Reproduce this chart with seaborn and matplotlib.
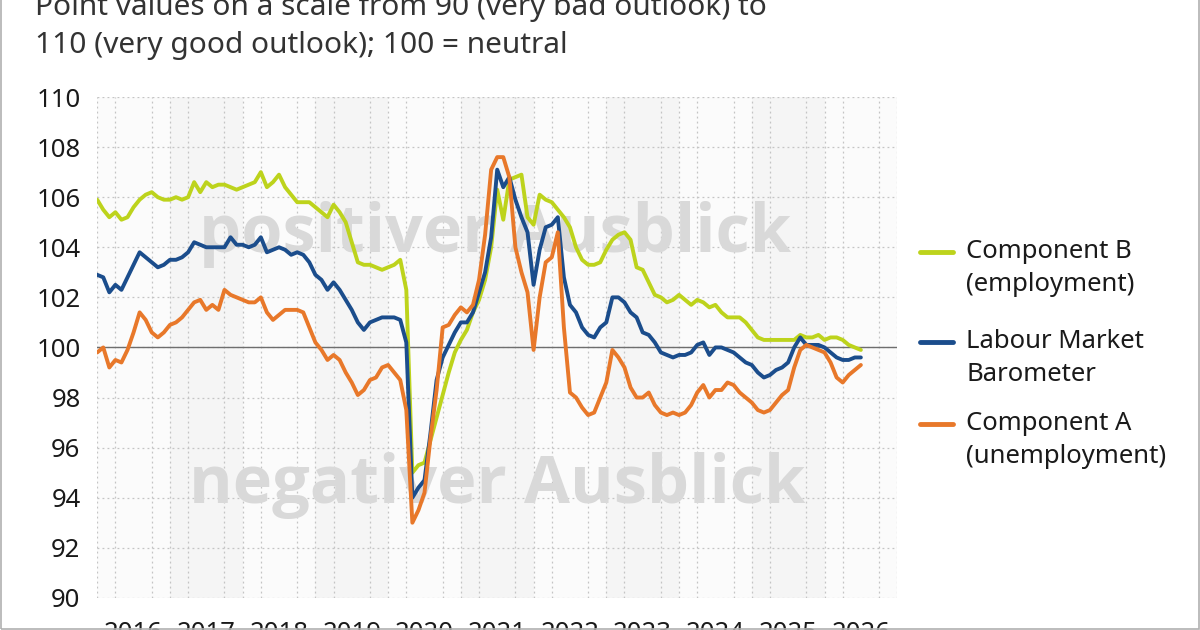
import numpy as np
import pandas as pd
import matplotlib
matplotlib.use('Agg')
import matplotlib.pyplot as plt
from matplotlib.lines import Line2D
from matplotlib.patches import Rectangle
import seaborn as sns

# monthly values, Jan 2016 onwards
component_b = [105.9, 105.5, 105.2, 105.4, 105.1, 105.2, 105.6, 105.9, 106.1, 106.2,
               106.0, 105.9, 105.9, 106.0, 105.9, 106.0, 106.6, 106.2, 106.6, 106.4,
               106.5, 106.5, 106.4, 106.3, 106.4, 106.5, 106.6, 107.0, 106.4, 106.6,
               106.9, 106.4, 106.1, 105.8, 105.8, 105.8, 105.6, 105.4, 105.2, 105.7,
               105.4, 105.0, 104.2, 103.4, 103.3, 103.3, 103.2, 103.1, 103.2, 103.3,
               103.5, 102.3, 95.0, 95.3, 95.4, 96.3, 97.2, 98.1, 99.0, 99.8,
               100.3, 100.7, 101.4, 101.9, 102.7, 104.0, 106.3, 105.1, 106.7, 106.8,
               106.9, 105.2, 104.9, 106.1, 105.9, 105.8, 105.5, 105.2, 104.8, 104.0,
               103.5, 103.3, 103.3, 103.4, 103.9, 104.3, 104.5, 104.6, 104.3, 103.2,
               103.1, 102.6, 102.1, 102.0, 101.8, 101.9, 102.1, 101.9, 101.7, 101.9,
               101.8, 101.6, 101.7, 101.4, 101.2, 101.2, 101.2, 101.0, 100.7, 100.4,
               100.3, 100.3, 100.3, 100.3, 100.3, 100.3, 100.5, 100.4, 100.4, 100.5,
               100.3, 100.4, 100.4, 100.3, 100.1, 100.0, 99.9]

barometer = [102.9, 102.8, 102.2, 102.5, 102.3, 102.8, 103.3, 103.8, 103.6, 103.4,
             103.2, 103.3, 103.5, 103.5, 103.6, 103.8, 104.2, 104.1, 104.0, 104.0,
             104.0, 104.0, 104.4, 104.1, 104.1, 104.0, 104.1, 104.4, 103.8, 103.9,
             104.0, 103.9, 103.7, 103.8, 103.7, 103.4, 102.9, 102.7, 102.3, 102.6,
             102.3, 101.9, 101.5, 101.0, 100.7, 101.0, 101.1, 101.2, 101.2, 101.2,
             101.1, 100.2, 94.0, 94.4, 94.7, 96.6, 98.7, 99.6, 100.1, 100.6,
             101.0, 101.0, 101.4, 102.2, 103.0, 104.4, 107.1, 106.4, 106.8, 105.9,
             105.2, 104.6, 102.5, 103.9, 104.8, 104.9, 105.2, 102.8, 101.7, 101.4,
             100.8, 100.5, 100.4, 100.8, 101.0, 102.0, 102.0, 101.8, 101.4, 101.2,
             100.6, 100.5, 100.2, 99.8, 99.7, 99.6, 99.7, 99.7, 99.8, 100.1,
             100.2, 99.7, 100.0, 100.0, 99.9, 99.8, 99.6, 99.4, 99.3, 99.0,
             98.8, 98.9, 99.1, 99.2, 99.4, 100.0, 100.4, 100.1, 100.1, 100.1,
             100.0, 99.8, 99.6, 99.5, 99.5, 99.6, 99.6]

component_a = [99.8, 100.0, 99.2, 99.5, 99.4, 99.9, 100.6, 101.4, 101.1, 100.6,
               100.4, 100.6, 100.9, 101.0, 101.2, 101.5, 101.8, 101.9, 101.5, 101.7,
               101.5, 102.3, 102.1, 102.0, 101.9, 101.8, 101.8, 102.0, 101.4, 101.1,
               101.3, 101.5, 101.5, 101.5, 101.4, 100.8, 100.2, 99.9, 99.5, 99.7,
               99.5, 99.0, 98.6, 98.1, 98.3, 98.7, 98.8, 99.2, 99.3, 99.0,
               98.7, 97.5, 93.0, 93.5, 94.2, 96.4, 98.3, 100.8, 100.9, 101.3,
               101.6, 101.4, 101.7, 102.7, 104.5, 107.1, 107.6, 107.6, 106.8, 104.0,
               103.0, 102.2, 99.9, 102.0, 103.4, 103.6, 104.6, 100.8, 98.2, 98.0,
               97.6, 97.3, 97.4, 98.0, 98.6, 99.9, 99.6, 99.2, 98.4, 98.0,
               98.0, 98.2, 97.7, 97.4, 97.3, 97.4, 97.3, 97.4, 97.7, 98.2,
               98.5, 98.0, 98.3, 98.3, 98.6, 98.5, 98.2, 98.0, 97.8, 97.5,
               97.4, 97.5, 97.8, 98.1, 98.3, 99.2, 99.9, 100.1, 100.0, 99.9,
               99.8, 99.4, 98.8, 98.6, 98.9, 99.1, 99.3]

years = list(range(2016, 2027))
series_names = ['Component B\n(employment)', 'Labour Market\nBarometer', 'Component A\n(unemployment)']
colors = ['#bdd31c', '#1b4d8c', '#e8782a']

months = pd.date_range('2016-01-01', periods=len(barometer), freq='MS')
t = months.year + (months.month - 1) / 12

df = pd.DataFrame({'t': t, series_names[0]: component_b,
                   series_names[1]: barometer, series_names[2]: component_a})
long = df.melt(id_vars='t', var_name='series', value_name='value')

sns.set_theme(style='white')
plt.rcParams['font.family'] = ['Noto Sans', 'DejaVu Sans']

fig = plt.figure(figsize=(12, 6.3), dpi=100)
ax = fig.add_axes([0.081, 0.051, 0.6667, 0.795])
ax.set_facecolor('#f5f5f5')

# alternating year bands
for y in years:
    if y % 2 == 0:
        ax.axvspan(y, y + 1, color='#fbfbfb', lw=0, zorder=0)

# background labels
wm = dict(ha='center', va='baseline', fontsize=48, fontweight='bold',
          color='#d9d9d9', zorder=1, family=['Open Sans', 'DejaVu Sans'])
ax.text(2021.47, 103.8, 'positiver Ausblick', **wm)
ax.text(2021.5, 93.8, 'negativer Ausblick', **wm)

ax.axhline(100, color='#6e6e6e', lw=1, zorder=2)

sns.lineplot(data=long, x='t', y='value', hue='series', hue_order=series_names,
             palette=colors, lw=2.8, legend=False, ax=ax, zorder=3)

ax.set_xlim(2016, 2027)
ax.set_ylim(90, 110)
ax.set_yticks(range(90, 111, 2))
ax.set_xticks([y + 0.5 for y in years])
ax.set_xticklabels([str(y) for y in years])
ax.set_xticks(np.arange(2016, 2027.01, 0.25), minor=True)
ax.grid(which='minor', axis='x', color='#c4c4c4', ls=(0, (1.5, 2.5)), lw=0.9)
ax.grid(which='major', axis='y', color='#c4c4c4', ls=(0, (1.5, 2.5)), lw=0.9)
ax.grid(which='major', axis='x', visible=False)
ax.tick_params(axis='both', which='both', length=0, labelsize=18.5, colors='#1a1a1a')
ax.tick_params(axis='y', pad=12)
ax.tick_params(axis='x', pad=17)
ax.set_xlabel('')
ax.set_ylabel('')
for s in ax.spines.values():
    s.set_visible(False)

# subtitle (partly cut at top)
fig.text(35 / 1200, 1 - 15 / 630, 'Point values on a scale from 90 (very bad outlook) to',
         fontsize=21.5, va='baseline', color='#333333')
fig.text(35 / 1200, 1 - 53 / 630, '110 (very good outlook); 100 = neutral',
         fontsize=21.5, va='baseline', color='#333333')

# legend drawn by hand: handle next to first text line
legend_y = [252, 342, 424]
for name, col, yy in zip(series_names, colors, legend_y):
    fy = 1 - yy / 630
    fig.add_artist(Line2D([920 / 1200, 953 / 1200], [fy, fy], color=col, lw=3.5,
                          transform=fig.transFigure))
    fig.text(966 / 1200, fy + 13 / 630, name, fontsize=18.5, va='top', color='#1a1a1a',
             linespacing=1.4)

fig.add_artist(Rectangle((0.001, 0.001), 0.998, 1.2, transform=fig.transFigure,
                         fill=False, edgecolor='#b0b0b0', lw=1.2))

fig.savefig('out.png', dpi=100)
